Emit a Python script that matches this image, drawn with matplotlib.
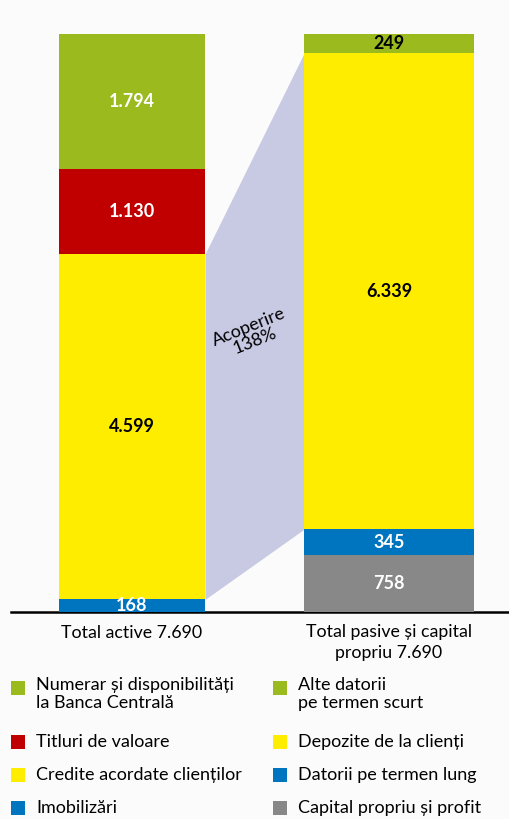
import matplotlib.pyplot as plt
from matplotlib.patches import Rectangle

plt.rcParams['font.family'] = ['Lato', 'DejaVu Sans']

# active (bottom -> top)
active_labels = ["Imobilizări", "Credite acordate clienților", "Titluri de valoare",
                 "Numerar și disponibilități\nla Banca Centrală"]
active_vals = [168, 4599, 1130, 1794]
active_cols = ["#0075bf", "#ffed00", "#c00000", "#9bba1e"]
active_txt = ["white", "black", "white", "white"]

# pasive (bottom -> top)
pasive_labels = ["Capital propriu și profit", "Datorii pe termen lung",
                 "Depozite de la clienți", "Alte datorii\npe termen scurt"]
pasive_vals = [758, 345, 6339, 249]
pasive_cols = ["#888888", "#0075bf", "#ffed00", "#9bba1e"]
pasive_txt = ["white", "white", "black", "black"]

cat_names = ["Total active 7.690", "Total pasive și capital\npropriu 7.690"]
coverage = "Acoperire\n138%"

W, H = 509, 819
fig = plt.figure(figsize=(W / 100, H / 100), dpi=100)
fig.patch.set_facecolor("#fbfbfb")
ax = fig.add_axes([11 / W, (H - 612) / H, (W - 11) / W, 612 / H])
ax.set_facecolor("#fbfbfb")

x = [0, 1]
widths = [0.568, 0.661]
ax.set_xlim(-0.471, 1.467)
ax.set_ylim(0, 8150)


def fmt(v):
    return f"{v:,}".replace(",", ".")


for xi, w, vals, cols, tcols in [(x[0], widths[0], active_vals, active_cols, active_txt),
                                  (x[1], widths[1], pasive_vals, pasive_cols, pasive_txt)]:
    bottom = 0
    for v, c, tc in zip(vals, cols, tcols):
        ax.bar(xi, v, width=w, bottom=bottom, color=c, zorder=3)
        ax.text(xi, bottom + v / 2, fmt(v), ha="center", va="center",
                color=tc, fontsize=13, fontweight="bold", zorder=4)
        bottom += v

# coverage band between the two yellow segments
xl = x[0] + widths[0] / 2
xr = x[1] - widths[1] / 2
lo = [active_vals[0], sum(pasive_vals[:2])]
hi = [sum(active_vals[:2]), sum(pasive_vals[:3])]
ax.fill_between([xl, xr], lo, hi, color="#c8c9e3", lw=0, zorder=2)
ax.text((xl + xr) / 2 - 0.01, (sum(lo) + sum(hi)) / 4 + 330, coverage,
        ha="center", va="center", rotation=22, fontsize=13, linespacing=0.95, zorder=4)

for s in ["top", "left", "right"]:
    ax.spines[s].set_visible(False)
ax.spines["bottom"].set_linewidth(1.8)
ax.set_yticks([])
ax.set_xticks(x)
ax.set_xticklabels(cat_names, fontsize=12.8, linespacing=1.35, va="top")
ax.tick_params(axis="x", length=0, pad=9)

# legend, two columns
rows_y = [688, 742, 775, 808]
for col, (labels, cols) in enumerate([(active_labels, active_cols),
                                      (pasive_labels, pasive_cols)]):
    sq_x = 11 if col == 0 else 273
    for lab, c, yy in zip(labels[::-1], cols[::-1], rows_y):
        fig.add_artist(Rectangle((sq_x / W, (H - yy - 7) / H), 14 / W, 14 / H,
                                 transform=fig.transFigure, color=c, lw=0))
        if "\n" in lab:
            fig.text((sq_x + 25) / W, (H - yy + 11) / H, lab, va="top",
                     fontsize=13, linespacing=1.15)
        else:
            fig.text((sq_x + 25) / W, (H - yy) / H, lab, va="center", fontsize=13)

fig.savefig("out.png", dpi=100, facecolor=fig.get_facecolor())
